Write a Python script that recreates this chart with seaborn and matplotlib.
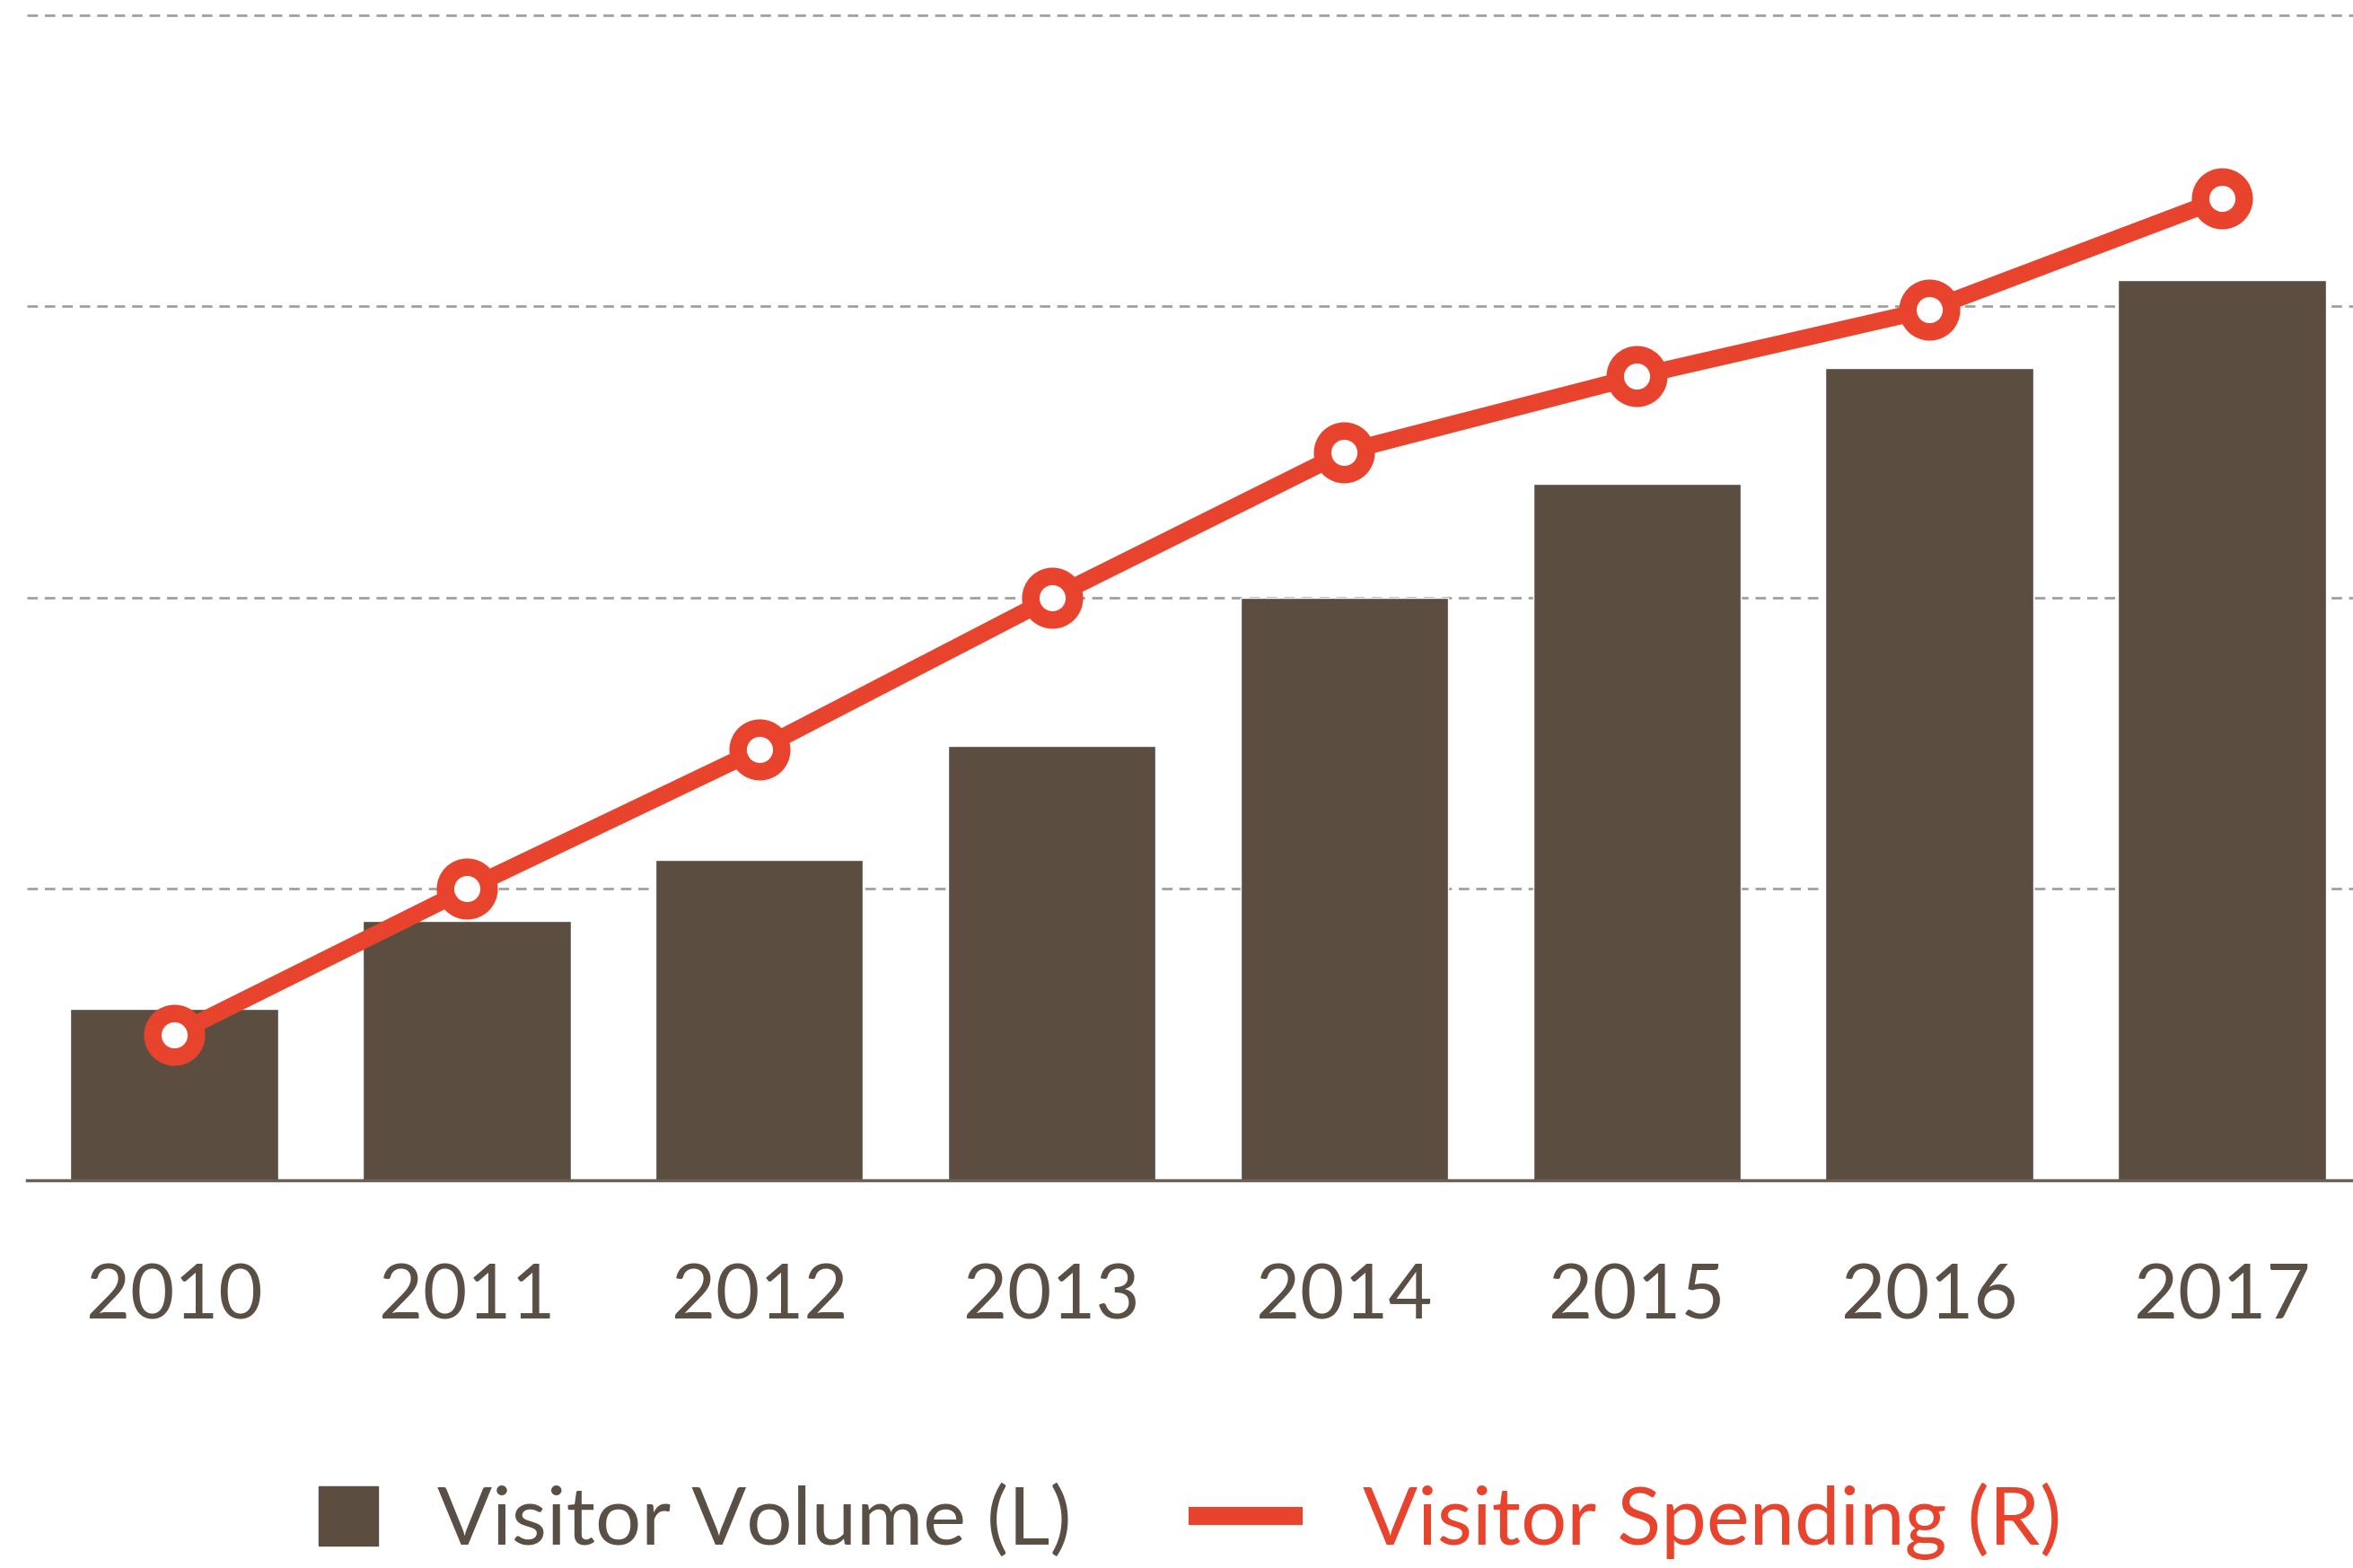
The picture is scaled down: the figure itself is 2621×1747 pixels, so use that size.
import numpy as np
import pandas as pd
import matplotlib
matplotlib.use("Agg")
import matplotlib.pyplot as plt
from matplotlib.lines import Line2D
from matplotlib.legend_handler import HandlerLine2D
import seaborn as sns

# values (grid units, no tick labels shown)
years = ["2010", "2011", "2012", "2013", "2014", "2015", "2016", "2017"]
visitor_volume = [0.59, 0.89, 1.10, 1.49, 2.00, 2.39, 2.79, 3.09]
visitor_spending = [0.50, 1.00, 1.48, 2.00, 2.50, 2.76, 2.99, 3.37]
grid_levels = [0, 1, 2, 3, 4]

BROWN = "#5b4e41"
RED = "#e8432d"
TEXT = "#5a4f45"

df = pd.DataFrame({"Year": years, "Volume": visitor_volume, "Spending": visitor_spending})

sns.set_theme(style="white")
plt.rcParams["font.family"] = ["Lato", "DejaVu Sans"]

fig = plt.figure(figsize=(26.21, 17.47), dpi=100)
ax = fig.add_axes([0.0115, 0.2473, 0.9885, 0.7458])

sns.barplot(x="Year", y="Volume", data=df, ax=ax, color=BROWN, width=0.71,
            saturation=1, zorder=2)

ax2 = ax.twinx()
sns.pointplot(x="Year", y="Spending", data=df, ax=ax2, color=RED, errorbar=None,
              markers="o", linestyles="-", markersize=35, linewidth=13.5,
              markerfacecolor="white", markeredgecolor=RED, markeredgewidth=14)

ymax = 4.015
for a in (ax, ax2):
    a.set_xlim(-0.503, 7.448)
    a.set_ylim(0, ymax)
    a.set_xlabel("")
    a.set_ylabel("")
    for s in a.spines.values():
        s.set_visible(False)

ax.set_yticks(grid_levels)
ax.set_yticklabels([])
ax.tick_params(axis="y", length=0)
ax2.set_yticks([])
ax.yaxis.grid(True, color="#a0a0a0", linewidth=2, linestyle=(0, (4.2, 2.8)))
ax.set_axisbelow(True)

ax.spines["bottom"].set_visible(True)
ax.spines["bottom"].set_color("#6b5e52")
ax.spines["bottom"].set_linewidth(2.5)

ax.tick_params(axis="x", length=0, pad=66, labelsize=61, labelcolor=TEXT)
ax2.tick_params(axis="x", length=0, labelbottom=False)

sq = Line2D([], [], marker="s", linestyle="none", markersize=48, color=BROWN)
ln = Line2D([], [], color=RED, linewidth=14.5, solid_capstyle="butt")
leg = fig.legend([sq, ln], ["Visitor Volume (L)", "Visitor Spending (R)"],
                 loc="center", bbox_to_anchor=(0.494, 0.030), ncol=2, frameon=False,
                 fontsize=65, handlelength=1.4, handletextpad=0.74, columnspacing=1.45,
                 labelcolor=[TEXT, RED],
                 handler_map={sq: HandlerLine2D(xpad=0.70)})

fig.savefig("out.png", dpi=100)
